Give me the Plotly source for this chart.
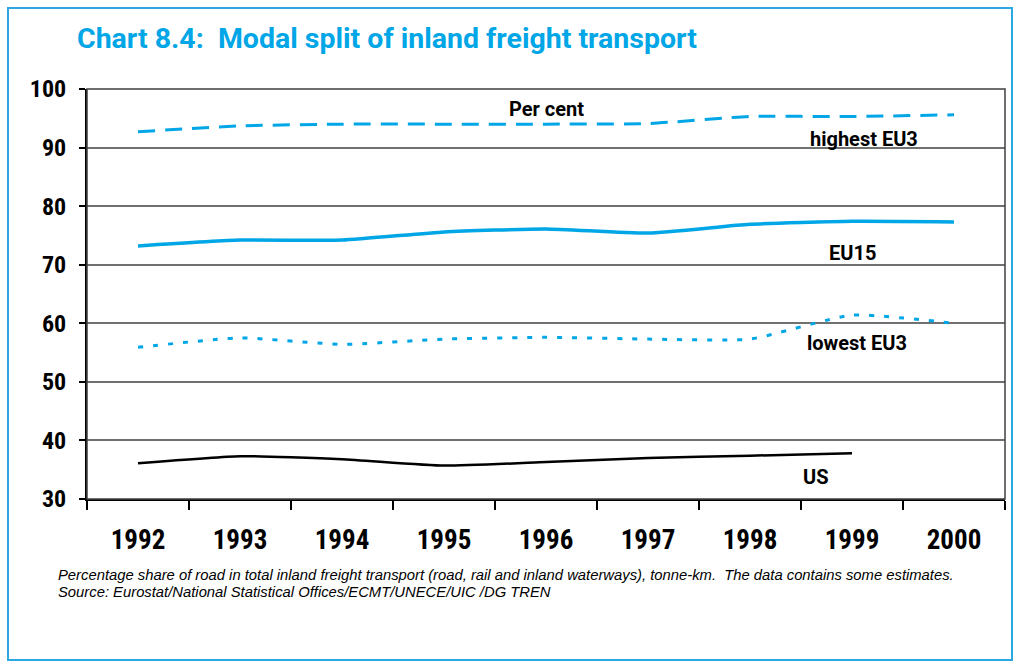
import plotly.graph_objects as go

years = ["1992", "1993", "1994", "1995", "1996", "1997", "1998", "1999", "2000"]
highest_eu3 = [92.7, 93.7, 94.0, 94.0, 94.0, 94.1, 95.3, 95.3, 95.6]
eu15 = [73.2, 74.2, 74.2, 75.6, 76.1, 75.4, 76.9, 77.4, 77.3]
lowest_eu3 = [55.9, 57.5, 56.4, 57.3, 57.6, 57.3, 57.3, 61.4, 60.0]
us = [36.1, 37.3, 36.8, 35.7, 36.3, 37.0, 37.4, 37.8]

BLUE = "#00a6e6"
FONT = "Roboto Condensed, DejaVu Sans Condensed, sans-serif"
WIDE = "Roboto, sans-serif"
NOTE = "Liberation Sans, Arial, sans-serif"

fig = go.Figure()
fig.add_trace(go.Scatter(x=years, y=highest_eu3, mode="lines",
                         line=dict(color=BLUE, width=3, dash="17px,10px", shape="spline", smoothing=0.5)))
fig.add_trace(go.Scatter(x=years, y=eu15, mode="lines",
                         line=dict(color=BLUE, width=3.5, shape="spline", smoothing=0.5)))
fig.add_trace(go.Scatter(x=years, y=lowest_eu3, mode="lines",
                         line=dict(color=BLUE, width=3, dash="5px,10px", shape="spline", smoothing=0.5)))
fig.add_trace(go.Scatter(x=years[:len(us)], y=us, mode="lines",
                         line=dict(color="#000000", width=2.5, shape="spline", smoothing=0.5)))

# series labels placed inside the plot
labels = [("Per cent", 4.0, 109), ("highest EU3", 7.12, 139), ("EU15", 7.0, 253),
          ("lowest EU3", 7.05, 343), ("US", 6.65, 477)]
for text, xc, ypx in labels:
    fig.add_annotation(x=xc, xref="x", y=1 - (ypx - 89) / 410, yref="paper",
                       text="<b>" + text + "</b>", showarrow=False,
                       font=dict(family=WIDE, size=20, color="#000000"),
                       xanchor="center", yanchor="middle")

fig.add_annotation(x=(75 - 87) / 918, xref="paper", y=1 + (89 - 39) / 410, yref="paper",
                   text="<b>Chart 8.4:  Modal split of inland freight transport</b>",
                   showarrow=False, xanchor="left", yanchor="middle",
                   font=dict(family=WIDE, size=28.5, color=BLUE))

NOTE_FONT = dict(family=NOTE, size=14.8, color="#000000")
fig.add_annotation(x=(56 - 87) / 918, xref="paper", y=-(575 - 499) / 410, yref="paper",
                   text="<i>Percentage share of road in total inland freight transport (road, rail and inland waterways), tonne-km.  The data contains some estimates.</i>",
                   showarrow=False, xanchor="left", yanchor="middle", font=NOTE_FONT)
fig.add_annotation(x=(56 - 87) / 918, xref="paper", y=-(592 - 499) / 410, yref="paper",
                   text="<i>Source: Eurostat/National Statistical Offices/ECMT/UNECE/UIC /DG TREN</i>",
                   showarrow=False, xanchor="left", yanchor="middle", font=NOTE_FONT)

# outer frame
fig.add_shape(type="rect", xref="paper", yref="paper",
              x0=(8 - 87) / 918, x1=(1012 - 87) / 918,
              y0=-(660 - 499) / 410, y1=1 + (89 - 8) / 410,
              line=dict(color="#2aa8e0", width=2))
# plot frame (top and right)
fig.add_shape(type="rect", xref="paper", yref="paper", x0=0, x1=1, y0=0, y1=1,
              line=dict(color="#404040", width=1.5))

fig.update_layout(
    width=1020, height=663,
    margin=dict(l=87, r=15, t=89, b=164),
    paper_bgcolor="white", plot_bgcolor="white",
    showlegend=False,
    font=dict(family=FONT),
)
fig.update_xaxes(type="category", categoryorder="array", categoryarray=years,
                 range=[-0.5, 8.5], tickson="boundaries", ticks="outside", ticklen=9,
                 tickwidth=1.5, tickcolor="#000000", showgrid=False,
                 showline=True, linecolor="#000000", linewidth=2,
                 tickfont=dict(family=FONT, size=27, color="#000000", weight="bold"),
                 ticklabelstandoff=16)
fig.update_yaxes(range=[30, 100], dtick=10, ticks="outside", ticklen=6,
                 tickwidth=1.5, tickcolor="#000000",
                 showgrid=True, gridcolor="#707070", gridwidth=1.5,
                 showline=True, linecolor="#000000", linewidth=2, zeroline=False,
                 tickfont=dict(family=FONT, size=24, color="#000000", weight="bold"),
                 ticklabelstandoff=8)

fig.write_html("out.html")
